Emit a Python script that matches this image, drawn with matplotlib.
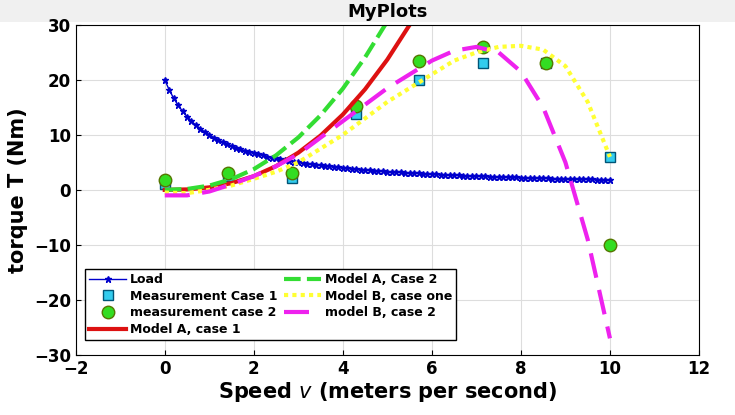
import numpy as np
import matplotlib
matplotlib.use("Agg")
import matplotlib.pyplot as plt
from matplotlib.patches import Rectangle

load_x = [i/10 for i in range(101)]
load_y = [20,18.18,16.67,15.38,14.29,13.33,12.5,11.76,11.11,10.53,10,
9.52,9.09,8.70,8.33,8.0,7.69,7.41,7.14,6.90,6.67,
6.45,6.25,6.06,5.88,5.71,5.56,5.41,5.26,5.13,5.0,
4.88,4.76,4.65,4.55,4.44,4.35,4.26,4.17,4.08,4.0,
3.92,3.85,3.77,3.70,3.64,3.57,3.51,3.45,3.39,3.33,
3.28,3.23,3.17,3.13,3.08,3.03,2.99,2.94,2.90,2.86,
2.82,2.78,2.74,2.70,2.67,2.63,2.60,2.56,2.53,2.5,
2.47,2.44,2.41,2.38,2.35,2.33,2.30,2.27,2.25,2.22,
2.20,2.17,2.15,2.13,2.11,2.08,2.06,2.04,2.02,2.0,
1.98,1.96,1.94,1.92,1.90,1.89,1.87,1.85,1.83,1.82]

meas_x = [0, 1.43, 2.86, 4.29, 5.71, 7.14, 8.57, 10]
meas1 = [1.0, 2.5, 2.2, 13.8, 20.0, 23.0, 23.0, 6.0]
meas2 = [1.8, 3.0, 3.0, 15.3, 23.5, 26.0, 23.0, -10.0]

modelA1_x = [0,0.5,1,1.5,2,2.5,3,3.5,4,4.5,5,5.5]
modelA1_y = [0,0.08,0.45,1.23,2.49,4.31,6.76,9.87,13.7,18.3,23.7,30]
modelA2_x = [0,0.5,1,1.5,2,2.5,3,3.5,4,4.5,4.95]
modelA2_y = [0,0.16,0.77,1.95,3.77,6.28,9.53,13.56,18.4,24.1,30]

model_x = [i/2 for i in range(21)]
modelB1_y = [-0.5,-0.6,0,0.8,2,3.3,5,7.5,10,13,16,18.5,21,23.5,25,26,26.2,25.5,22.5,16,6]
modelB2_y = [-1,-1,-0.3,1,2.5,4.3,6.5,9.5,12.5,15.5,18.5,21,23.5,25.3,26,25,21.5,15,5,-9,-27]

fig = plt.figure(figsize=(7.35, 4.15), dpi=100)
fig.patches.append(Rectangle((0, 1-22/415), 1, 22/415, transform=fig.transFigure,
                             facecolor='#f0f0f0', edgecolor='none', zorder=-1))
ax = fig.add_axes([0.103, 0.145, 0.848, 0.795])
ax.grid(True, color='#dddddd', linewidth=0.8)
ax.set_axisbelow(True)

ax.plot(load_x, load_y, color='#0000cc', marker='*', markersize=5, linewidth=1, label='Load')
ax.plot(meas_x, meas1, linestyle='none', marker='s', markersize=7, markerfacecolor='#33ccee',
        markeredgecolor='#005577', label='Measurement Case 1')
ax.plot(meas_x, meas2, linestyle='none', marker='o', markersize=9, markerfacecolor='#33dd22',
        markeredgecolor='#557700', label='measurement case 2')
ax.plot(modelA1_x, modelA1_y, color='#dd1111', linewidth=3, label='Model A, case 1')
ax.plot(modelA2_x, modelA2_y, color='#33dd33', linewidth=3, linestyle=(0, (4, 1.5)), label='Model A, Case 2')
ax.plot(model_x, modelB1_y, color='#ffff33', linewidth=3, linestyle=(0, (1, 1)), label='Model B, case one')
ax.plot(model_x, modelB2_y, color='#ee22ee', linewidth=3, linestyle=(0, (6, 3)), label='model B, case 2')

ax.set_xlim(-2, 12)
ax.set_ylim(-30, 30)
ax.set_xticks(range(-2, 13, 2))
ax.set_yticks(range(-30, 31, 10))
ax.tick_params(labelsize=12, direction='in')
for t in ax.get_xticklabels() + ax.get_yticklabels():
    t.set_fontweight('bold')
ax.set_title('MyPlots', fontsize=13, fontweight='bold', pad=6)
ax.set_xlabel(r'Speed $\mathbf{\it{v}}$ (meters per second)', fontsize=15, fontweight='bold', labelpad=2)
ax.set_ylabel('torque T (Nm)', fontsize=15, fontweight='bold')

h, l = ax.get_legend_handles_labels()
leg = ax.legend(h, l, ncol=2, loc='lower left',
                bbox_to_anchor=(0.015, 0.045), prop={'weight': 'bold', 'size': 9},
                fancybox=False, edgecolor='black', framealpha=1, borderaxespad=0,
                handlelength=3.0, labelspacing=0.3, columnspacing=0.5, handletextpad=0.3,
                borderpad=0.3)
fig.savefig('out.png', dpi=100)
